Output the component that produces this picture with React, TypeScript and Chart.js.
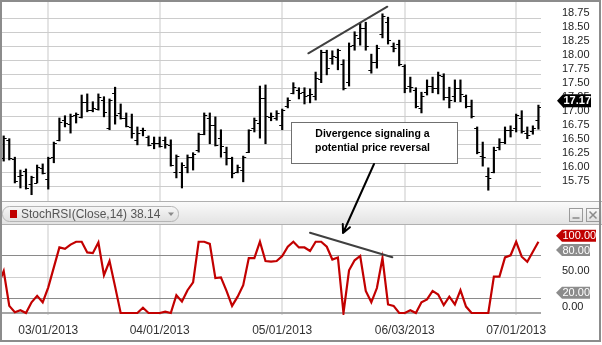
import React, { useEffect, useRef } from 'react';
import { Chart, registerables } from 'chart.js';
Chart.register(...registerables);

// ---------- data ----------
const TRADING_DAYS: [string, number[]][] = [
  ['02', [15, 19, 20, 21, 22, 25, 26, 27, 28]],
  ['03', [1, 4, 5, 6, 7, 8, 11, 12, 13, 14, 15, 18, 19, 20, 21, 22, 25, 26, 27, 28]],
  ['04', [1, 2, 3, 4, 5, 8, 9, 10, 11, 12, 15, 16, 17, 18, 19, 22, 23, 24, 25, 26, 29, 30]],
  ['05', [1, 2, 3, 6, 7, 8, 9, 10, 13, 14, 15, 16, 17, 20, 21, 22, 23, 24, 28, 29, 30, 31]],
  ['06', [3, 4, 5, 6, 7, 10, 11, 12, 13, 14, 17, 18, 19, 20, 21, 24, 25, 26, 27, 28]],
  ['07', [1, 2, 3, 5, 8]],
];
const DATES: string[] = TRADING_DAYS.flatMap(([m, days]) =>
  days.map((d) => `${m}/${String(d).padStart(2, '0')}/2013`)
);

const OPEN = [
  16.50,
  16.26, 16.58, 16.24, 15.93, 16.02, 15.79, 15.81, 16.08,
  15.88, 16.27, 16.58, 16.93, 16.86, 17.02, 16.99, 17.26,
  17.11, 17.13, 17.29, 16.79, 17.42, 17.06, 16.97, 16.81,
  16.58, 16.76, 16.63, 16.52, 16.52, 16.58, 16.49, 16.01,
  16.01, 16.10, 16.27, 16.40, 16.68, 16.97, 16.85, 16.61,
  16.36, 16.26, 16.01, 16.04, 16.36, 16.79, 16.88, 17.33,
  16.99, 16.97, 16.85, 17.18, 17.42, 17.47, 17.43, 17.38,
  17.36, 17.67, 18.15, 18.04, 18.06, 17.93, 17.61, 18.27,
  18.40, 18.58, 17.83, 17.97, 18.47, 18.68, 18.26, 18.29,
  17.90, 17.54, 17.47, 17.15, 17.43, 17.54, 17.51, 17.72,
  17.35, 17.36, 17.51, 17.36, 17.18, 16.79, 16.29, 15.93,
  16.01, 16.45, 16.54, 16.76, 16.79, 16.97, 16.70, 16.74,
  16.93,
];
const HIGH = [
  16.60,
  16.65, 16.60, 16.27, 16.04, 16.06, 15.93, 16.13, 16.15,
  16.27, 16.54, 16.97, 17.01, 17.04, 17.06, 17.38, 17.40,
  17.26, 17.40, 17.35, 17.31, 17.52, 17.22, 17.06, 17.04,
  16.81, 16.79, 16.65, 16.63, 16.63, 16.63, 16.58, 16.31,
  16.17, 16.31, 16.35, 16.70, 17.06, 17.06, 16.99, 16.76,
  16.45, 16.27, 16.13, 16.29, 16.76, 16.97, 17.54, 17.56,
  17.06, 17.10, 17.13, 17.33, 17.60, 17.51, 17.51, 17.49,
  17.79, 18.18, 18.18, 18.17, 18.20, 18.01, 18.31, 18.51,
  18.67, 18.68, 18.11, 18.27, 18.83, 18.77, 18.31, 18.36,
  17.92, 17.70, 17.51, 17.43, 17.65, 17.70, 17.79, 17.76,
  17.52, 17.65, 17.65, 17.38, 17.29, 16.81, 16.54, 16.08,
  16.45, 16.60, 16.81, 16.83, 17.04, 17.10, 16.81, 16.83,
  17.20,
];
const LOW = [
  16.25,
  16.20, 16.22, 15.81, 15.72, 15.70, 15.60, 15.81, 15.97,
  15.70, 16.17, 16.56, 16.81, 16.70, 16.88, 16.97, 17.08,
  17.08, 17.11, 16.99, 16.76, 16.86, 16.95, 16.81, 16.61,
  16.49, 16.65, 16.47, 16.42, 16.45, 16.43, 16.11, 15.90,
  15.72, 15.99, 16.04, 16.36, 16.67, 16.51, 16.47, 16.27,
  16.13, 15.90, 15.99, 15.83, 16.35, 16.72, 16.61, 16.51,
  16.92, 16.93, 16.76, 17.15, 17.40, 17.31, 17.22, 17.24,
  17.29, 17.60, 17.74, 17.93, 17.83, 17.47, 17.54, 18.18,
  18.27, 18.18, 17.77, 17.86, 18.40, 18.29, 18.15, 17.90,
  17.42, 17.43, 17.15, 17.06, 17.38, 17.42, 17.40, 17.29,
  17.15, 17.26, 17.26, 17.15, 16.97, 16.33, 16.11, 15.68,
  15.99, 16.40, 16.51, 16.63, 16.72, 16.70, 16.60, 16.68,
  16.77,
];
const CLOSE = [
  16.31,
  16.61, 16.26, 15.85, 15.95, 15.72, 15.91, 16.10, 15.99,
  16.26, 16.52, 16.90, 16.88, 17.01, 17.04, 17.26, 17.11,
  17.15, 17.35, 17.08, 17.29, 17.02, 16.97, 16.83, 16.70,
  16.70, 16.75, 16.48, 16.53, 16.47, 16.51, 16.13, 16.29,
  16.13, 16.27, 16.33, 16.68, 17.02, 16.85, 16.48, 16.47,
  16.26, 15.99, 16.10, 16.27, 16.75, 16.93, 17.33, 17.01,
  17.01, 17.06, 17.11, 17.29, 17.52, 17.42, 17.36, 17.40,
  17.68, 18.15, 17.86, 18.08, 18.18, 17.51, 18.26, 18.45,
  18.58, 18.26, 17.97, 18.22, 18.79, 18.36, 18.22, 17.93,
  17.51, 17.52, 17.18, 17.36, 17.54, 17.51, 17.74, 17.35,
  17.29, 17.51, 17.40, 17.18, 17.01, 16.36, 16.27, 15.90,
  16.40, 16.54, 16.76, 16.75, 17.02, 16.74, 16.67, 16.79,
  17.17,
];
const STOCH = [
  40,
  59, 10, 1, 4, 0, 15, 24, 15,
  36, 64, 92, 90, 96, 100, 100, 85,
  84, 99, 53, 73, 37, 0, 0, 0,
  0, 7.5, 0, 0, 0, 2, 0, 25,
  16, 32, 43, 100, 100, 97, 49, 50,
  31, 10, 23, 39, 77, 77, 100, 73,
  72, 73, 80, 93, 100, 92, 92, 87,
  100, 100, 93, 75, 78, 0, 60, 74,
  80, 31, 15, 35, 77, 12, 10, 0,
  0, 4, 0, 15, 19, 31, 26, 11,
  23, 12, 32, 9, 0, 0, 0, 0,
  51, 51, 78, 81, 100, 79, 72, 86,
  100,
];

const PRICE_TICKS = [15.75, 16.0, 16.25, 16.5, 16.75, 17.0, 17.25, 17.5, 17.75, 18.0, 18.25, 18.5, 18.75];
const STOCH_GRID = [0, 20, 50, 80];
const STOCH_LABELS: { value: number; flag: string | null }[] = [
  { value: 100, flag: '#c00000' },
  { value: 80, flag: '#8c8c8c' },
  { value: 50, flag: null },
  { value: 20, flag: '#8c8c8c' },
  { value: 0, flag: null },
];
const LEGEND_TEXT = 'StochRSI(Close,14) 38.14';
const NOTE_LINES = ['Divergence signaling a', 'potential price reversal'];
// annotation anchors in data coordinates (x = bar index)
const PRICE_TREND = [{ x: 55.69, y: 18.125 }, { x: 69.87, y: 18.957 }];
const STOCH_TREND = [{ x: 55.99, y: 112.7 }, { x: 70.77, y: 78.2 }];
const NOTE_BOX = { x0: 52.58, x1: 82.38, top: 16.904, bottom: 16.161 };
const ARROW = { from: { x: 67.48, y: 16.148 }, to: { x: 61.92, y: 112.3 } };

const MONTH_TICKS = DATES.map((d, i) => i).filter((i) => i > 0 && DATES[i].slice(0, 2) !== DATES[i - 1].slice(0, 2));

const FONT = '"Liberation Sans", Arial, sans-serif';

function drawFlag(ctx: CanvasRenderingContext2D, x: number, y: number, w: number, h: number, bg: string, text: string, bold: boolean) {
  ctx.beginPath();
  ctx.moveTo(x, y);
  ctx.lineTo(x + 6, y - h / 2);
  ctx.lineTo(x + w, y - h / 2);
  ctx.lineTo(x + w, y + h / 2);
  ctx.lineTo(x + 6, y + h / 2);
  ctx.closePath();
  ctx.fillStyle = bg;
  ctx.fill();
  ctx.fillStyle = '#ffffff';
  ctx.font = `${bold ? 'bold ' : ''}11px ${FONT}`;
  ctx.textAlign = 'left';
  ctx.textBaseline = 'middle';
  ctx.fillText(text, x + 6.5, y + 0.5);
}

function roundRect(ctx: CanvasRenderingContext2D, x: number, y: number, w: number, h: number, r: number) {
  ctx.beginPath();
  ctx.moveTo(x + r, y);
  ctx.lineTo(x + w - r, y);
  ctx.arcTo(x + w, y, x + w, y + r, r);
  ctx.lineTo(x + w, y + h - r);
  ctx.arcTo(x + w, y + h, x + w - r, y + h, r);
  ctx.lineTo(x + r, y + h);
  ctx.arcTo(x, y + h, x, y + h - r, r);
  ctx.lineTo(x, y + r);
  ctx.arcTo(x, y, x + r, y, r);
  ctx.closePath();
}

const decorPlugin = {
  id: 'decor',
  beforeDatasetsDraw(chart: any) {
    const ctx: CanvasRenderingContext2D = chart.ctx;
    const W = chart.width;
    ctx.save();
    // header strip between the panels
    const g = ctx.createLinearGradient(0, 201, 0, 224);
    g.addColorStop(0, '#fbfbfb');
    g.addColorStop(1, '#e3e3e3');
    ctx.fillStyle = g;
    ctx.fillRect(0, 201, W, 23);
    ctx.strokeStyle = '#b0b0b0';
    ctx.lineWidth = 1;
    ctx.beginPath();
    ctx.moveTo(0, 201.5);
    ctx.lineTo(W, 201.5);
    ctx.moveTo(0, 224.5);
    ctx.lineTo(W, 224.5);
    ctx.stroke();
    // legend pill
    roundRect(ctx, 2.5, 206.5, 176, 15, 7);
    const pg = ctx.createLinearGradient(0, 206, 0, 222);
    pg.addColorStop(0, '#f7f7f7');
    pg.addColorStop(1, '#dedede');
    ctx.fillStyle = pg;
    ctx.fill();
    ctx.strokeStyle = '#b5b5b5';
    ctx.stroke();
    ctx.fillStyle = '#c00000';
    ctx.fillRect(10, 210, 7, 8);
    ctx.fillStyle = '#555555';
    ctx.font = `12px ${FONT}`;
    ctx.textAlign = 'left';
    ctx.textBaseline = 'middle';
    ctx.fillText(LEGEND_TEXT, 21, 214.5);
    ctx.fillStyle = '#8a8a8a';
    ctx.beginPath();
    ctx.moveTo(168, 212.5);
    ctx.lineTo(174, 212.5);
    ctx.lineTo(171, 216);
    ctx.closePath();
    ctx.fill();
    // window buttons
    ctx.lineWidth = 1;
    [569.5, 586.5].forEach((bx, k) => {
      const bg2 = ctx.createLinearGradient(0, 208, 0, 221);
      bg2.addColorStop(0, '#fafafa');
      bg2.addColorStop(1, '#e0e0e0');
      ctx.fillStyle = bg2;
      ctx.fillRect(bx, 208.5, 13, 13);
      ctx.strokeStyle = '#9a9a9a';
      ctx.strokeRect(bx, 208.5, 13, 13);
      ctx.strokeStyle = '#8a8a8a';
      ctx.lineWidth = 1.5;
      ctx.beginPath();
      if (k === 0) {
        ctx.moveTo(bx + 3, 218);
        ctx.lineTo(bx + 10, 218);
      } else {
        ctx.moveTo(bx + 3, 211.5);
        ctx.lineTo(bx + 10, 218.5);
        ctx.moveTo(bx + 10, 211.5);
        ctx.lineTo(bx + 3, 218.5);
      }
      ctx.stroke();
      ctx.lineWidth = 1;
    });
    ctx.restore();
  },
  afterDatasetsDraw(chart: any) {
    const ctx: CanvasRenderingContext2D = chart.ctx;
    const xs = chart.scales.x;
    const yp = chart.scales.yP;
    const a = chart.chartArea;
    ctx.save();
    ctx.beginPath();
    ctx.rect(a.left, a.top, a.right - a.left, a.bottom - a.top);
    ctx.clip();
    ctx.strokeStyle = '#000000';
    ctx.lineWidth = 1;
    ctx.beginPath();
    for (let i = 0; i < OPEN.length; i++) {
      const x = xs.getPixelForValue(i);
      const yo = Math.round(yp.getPixelForValue(OPEN[i])) + 0.5;
      const yc = Math.round(yp.getPixelForValue(CLOSE[i])) + 0.5;
      ctx.moveTo(x - 3, yo);
      ctx.lineTo(x, yo);
      ctx.moveTo(x, yc);
      ctx.lineTo(x + 3, yc);
    }
    ctx.stroke();
    ctx.restore();
  },
  afterDraw(chart: any) {
    const ctx: CanvasRenderingContext2D = chart.ctx;
    const xs = chart.scales.x;
    const yp = chart.scales.yP;
    const ys = chart.scales.yS;
    ctx.save();
    // trend lines
    ctx.strokeStyle = '#404040';
    ctx.lineWidth = 2;
    ctx.lineCap = 'round';
    ctx.beginPath();
    ctx.moveTo(xs.getPixelForValue(PRICE_TREND[0].x), yp.getPixelForValue(PRICE_TREND[0].y));
    ctx.lineTo(xs.getPixelForValue(PRICE_TREND[1].x), yp.getPixelForValue(PRICE_TREND[1].y));
    ctx.moveTo(xs.getPixelForValue(STOCH_TREND[0].x), ys.getPixelForValue(STOCH_TREND[0].y));
    ctx.lineTo(xs.getPixelForValue(STOCH_TREND[1].x), ys.getPixelForValue(STOCH_TREND[1].y));
    ctx.stroke();
    // note box
    const bx0 = Math.round(xs.getPixelForValue(NOTE_BOX.x0)) + 0.5;
    const bx1 = Math.round(xs.getPixelForValue(NOTE_BOX.x1)) + 0.5;
    const by0 = Math.round(yp.getPixelForValue(NOTE_BOX.top)) + 0.5;
    const by1 = Math.round(yp.getPixelForValue(NOTE_BOX.bottom)) + 0.5;
    ctx.fillStyle = '#ffffff';
    ctx.fillRect(bx0, by0, bx1 - bx0, by1 - by0);
    ctx.strokeStyle = '#707070';
    ctx.lineWidth = 1;
    ctx.strokeRect(bx0, by0, bx1 - bx0, by1 - by0);
    ctx.fillStyle = '#000000';
    ctx.font = `bold 10.5px ${FONT}`;
    ctx.textAlign = 'center';
    ctx.textBaseline = 'middle';
    const cx = (bx0 + bx1) / 2 - 2;
    const cy = (by0 + by1) / 2;
    ctx.fillText(NOTE_LINES[0], cx, cy - 9);
    ctx.fillText(NOTE_LINES[1], cx, cy + 5);
    // arrow
    const ax0 = xs.getPixelForValue(ARROW.from.x);
    const ay0 = yp.getPixelForValue(ARROW.from.y);
    const ax1 = xs.getPixelForValue(ARROW.to.x);
    const ay1 = ys.getPixelForValue(ARROW.to.y);
    ctx.strokeStyle = '#000000';
    ctx.lineWidth = 2;
    ctx.beginPath();
    ctx.moveTo(ax0, ay0);
    ctx.lineTo(ax1, ay1);
    const ang = Math.atan2(ay1 - ay0, ax1 - ax0);
    const hl = 9;
    ctx.moveTo(ax1, ay1);
    ctx.lineTo(ax1 - hl * Math.cos(ang - 0.45), ay1 - hl * Math.sin(ang - 0.45));
    ctx.moveTo(ax1, ay1);
    ctx.lineTo(ax1 - hl * Math.cos(ang + 0.45), ay1 - hl * Math.sin(ang + 0.45));
    ctx.stroke();
    // right-side price labels
    ctx.lineCap = 'butt';
    ctx.fillStyle = '#222222';
    ctx.font = `11px ${FONT}`;
    ctx.textAlign = 'left';
    ctx.textBaseline = 'middle';
    PRICE_TICKS.forEach((v) => {
      ctx.fillText(v.toFixed(2), 562, yp.getPixelForValue(v) - 5.5);
    });
    const last = CLOSE[CLOSE.length - 1];
    drawFlag(ctx, 557, yp.getPixelForValue(last) - 6, 34, 13, '#000000', last.toFixed(2), true);
    // stoch labels
    STOCH_LABELS.forEach((s) => {
      const y = ys.getPixelForValue(s.value) - 6;
      if (s.flag) {
        drawFlag(ctx, 556, y, s.value === 100 ? 40 : 34, 12, s.flag, s.value.toFixed(2), false);
      } else {
        ctx.fillStyle = '#222222';
        ctx.font = `11px ${FONT}`;
        ctx.textAlign = 'left';
        ctx.textBaseline = 'middle';
        ctx.fillText(s.value.toFixed(2), 562, y);
      }
    });
    // frame
    ctx.strokeStyle = '#8c8c8c';
    ctx.lineWidth = 2;
    ctx.strokeRect(1, 1, 599, 340);
    ctx.restore();
  },
};

export default function App() {
  const ref = useRef<HTMLCanvasElement>(null);
  useEffect(() => {
    document.body.style.margin = '0';
    const canvas = ref.current!;
    const chart = new Chart(canvas, {
      type: 'bar',
      data: {
        datasets: [
          {
            type: 'bar',
            label: 'Price',
            data: OPEN.map((_, i) => ({ x: i, y: [LOW[i], HIGH[i]] })) as any,
            xAxisID: 'x',
            yAxisID: 'yP',
            backgroundColor: '#000000',
            borderWidth: 0,
            barThickness: 1.5,
          } as any,
          {
            type: 'line',
            label: 'StochRSI',
            data: STOCH.map((v, i) => ({ x: i, y: v })),
            xAxisID: 'x',
            yAxisID: 'yS',
            borderColor: '#c20000',
            borderWidth: 2.2,
            pointRadius: 0,
            tension: 0,
            fill: false,
          } as any,
        ],
      },
      options: {
        responsive: false,
        animation: false,
        events: [],
        layout: { padding: { left: 1, right: 61, top: 2, bottom: 0 } },
        plugins: { legend: { display: false }, tooltip: { enabled: false } },
        scales: {
          x: {
            type: 'linear',
            offset: false,
            min: 0.515,
            max: 97.46,
            afterBuildTicks: (s: any) => {
              s.ticks = MONTH_TICKS.map((v) => ({ value: v }));
            },
            afterFit: (s: any) => {
              s.height = 30;
            },
            ticks: {
              callback: (v: any) => DATES[v as number],
              font: { family: FONT, size: 12 },
              color: '#333333',
              padding: 8,
              maxRotation: 0,
              autoSkip: false,
            },
            grid: { color: '#e4e4e4', lineWidth: 2, drawTicks: false, offset: false },
            border: { display: false },
          },
          yP: {
            type: 'linear',
            position: 'right',
            min: 13.452,
            max: 19.041,
            afterBuildTicks: (s: any) => {
              s.ticks = PRICE_TICKS.map((v) => ({ value: v }));
            },
            afterFit: (s: any) => {
              s.width = 0;
            },
            ticks: { display: false },
            grid: { color: '#cccccc', lineWidth: 1, drawTicks: false },
            border: { display: false },
          },
          yS: {
            type: 'linear',
            position: 'right',
            min: -2.81,
            max: 436.5,
            afterBuildTicks: (s: any) => {
              s.ticks = STOCH_GRID.map((v) => ({ value: v }));
            },
            afterFit: (s: any) => {
              s.width = 0;
            },
            ticks: { display: false },
            grid: {
              color: (c: any) => (c.tick.value === 50 ? '#cfcfcf' : c.tick.value === 0 ? '#a6a6a6' : '#8a8a8a'),
              lineWidth: (c: any) => (c.tick.value === 0 ? 2 : 1),
              drawTicks: false,
            },
            border: { display: false },
          },
        },
      } as any,
      plugins: [decorPlugin],
    });
    return () => chart.destroy();
  }, []);
  return (
    <div style={{ position: 'absolute', left: 0, top: 0, width: 602, height: 345, background: '#ffffff' }}>
      <canvas ref={ref} width={602} height={345} style={{ display: 'block', width: 602, height: 345 }} />
    </div>
  );
}
